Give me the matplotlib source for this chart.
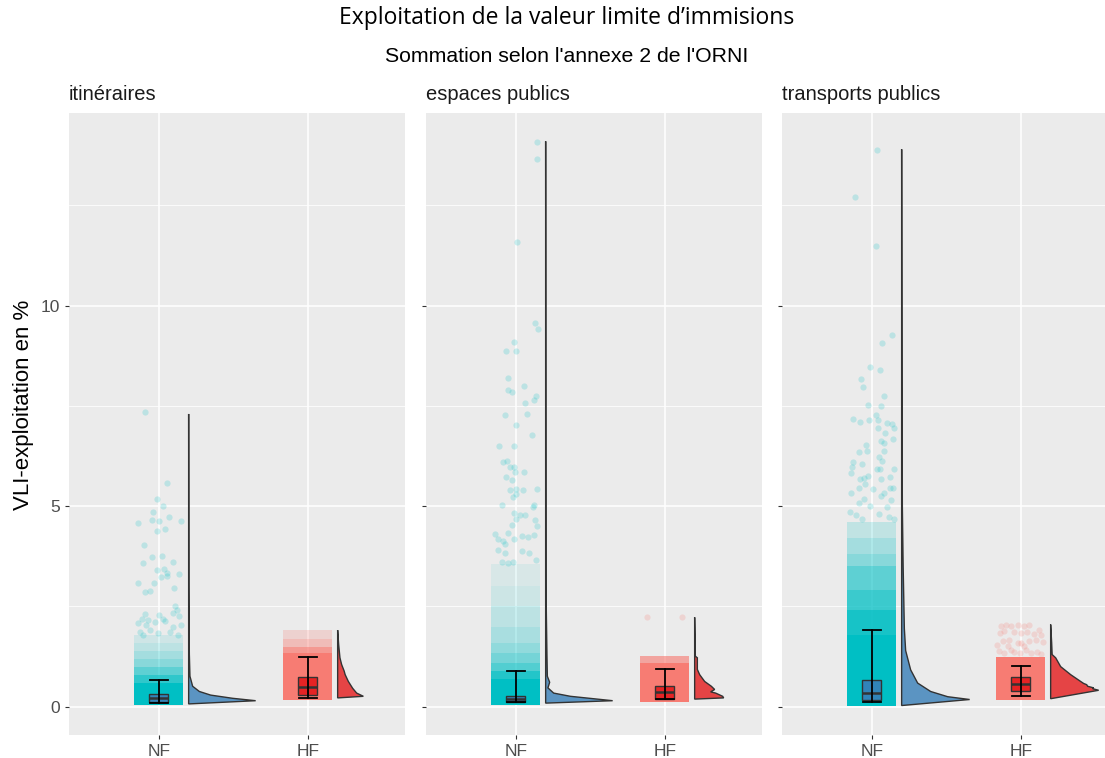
import matplotlib
matplotlib.use("Agg")
import matplotlib.pyplot as plt
from matplotlib.patches import Rectangle, Polygon

# ---------------- data ----------------
facets = ["itinéraires", "espaces publics", "transports publics"]
groups = ["NF", "HF"]
title = "Exploitation de la valeur limite d\u2019immisions"
subtitle = "Sommation selon l'annexe 2 de l'ORNI"
ylabel = "VLI-exploitation en %"
yticks = [0, 5, 10]

# boxplot stats per facet: [lower whisker, Q1, median, Q3, upper whisker]
box_NF = [[0.10, 0.11, 0.22, 0.32, 0.67],
          [0.11, 0.11, 0.19, 0.27, 0.90],
          [0.13, 0.18, 0.34, 0.66, 1.91]]
box_HF = [[0.23, 0.30, 0.48, 0.74, 1.24],
          [0.19, 0.19, 0.36, 0.52, 0.95],
          [0.27, 0.38, 0.57, 0.74, 1.02]]

# half-violin density profiles (value, density)
vio_NF_val = [[0.07, 0.15, 0.21, 0.29, 0.38, 0.51, 0.76, 1.3, 2.0, 3.0, 7.3],
              [0.09, 0.15, 0.26, 0.34, 0.47, 0.61, 0.76, 1.3, 3.0, 14.1],
              [0.03, 0.18, 0.25, 0.38, 0.59, 0.92, 1.4, 1.95, 3.5, 5.0, 8.0, 13.9]]
vio_NF_den = [[0, 67, 44, 22, 10.7, 4, 1.3, 0.7, 0.4, 0.2, 0],
              [0, 67, 24.7, 8, 2.3, 4, 1.7, 1.3, 0.3, 0],
              [0, 68, 46, 29, 16, 9, 4, 2.7, 1.5, 0.7, 0.3, 0]]
vio_HF_val = [[0.22, 0.26, 0.34, 0.46, 0.63, 0.8, 0.89, 1.05, 1.22, 1.55, 1.91],
              [0.19, 0.22, 0.26, 0.34, 0.37, 0.43, 0.51, 0.63, 0.80, 0.93, 1.22, 1.26, 2.23],
              [0.20, 0.41, 0.45, 0.47, 0.51, 0.55, 0.58, 0.63, 0.80, 1.00, 1.22, 1.30, 1.60, 2.05]]
vio_HF_den = [[0, 25.7, 19, 15, 10.7, 7.5, 6.5, 4, 2.3, 1, 0],
              [0, 29, 28, 21, 16, 20, 16.7, 10, 5, 2.7, 2.7, 0.7, 0],
              [0, 48, 42, 43, 37, 36, 33, 30, 20, 10, 5, 1.5, 1, 0]]

# dense part of the rain (value ranges with visual density)
cloud_NF = [[(0.05, 0.6, 1.0), (0.6, 0.8, 0.8), (0.8, 1.0, 0.6), (1.0, 1.2, 0.42),
             (1.2, 1.4, 0.3), (1.4, 1.6, 0.2), (1.6, 1.8, 0.12)],
            [(0.05, 0.7, 1.0), (0.7, 0.9, 0.85), (0.9, 1.1, 0.65), (1.1, 1.35, 0.5),
             (1.35, 1.6, 0.38), (1.6, 2.0, 0.28), (2.0, 2.5, 0.2), (2.5, 3.0, 0.13), (3.0, 3.55, 0.08)],
            [(0.03, 1.8, 1.0), (1.8, 2.4, 0.9), (2.4, 2.9, 0.75), (2.9, 3.5, 0.6),
             (3.5, 3.8, 0.42), (3.8, 4.2, 0.3), (4.2, 4.6, 0.18)]]
cloud_HF = [[(0.17, 1.35, 0.95), (1.35, 1.5, 0.7), (1.5, 1.7, 0.4), (1.7, 1.92, 0.22)],
            [(0.13, 1.10, 0.95), (1.10, 1.26, 0.6)],
            [(0.18, 1.24, 0.95)]]

# sparse single observations (jitter offset, value)
pts_NF_x = [
    [-0.094, 0.058, -0.015, 0.029, -0.040, -0.143, -0.049, 0.002, 0.069, 0.152, -0.015, 0.042, -0.101,
     -0.045, 0.020, -0.109, 0.096, -0.013, 0.032, 0.058, 0.015, 0.052, 0.136, -0.143, -0.032, -0.096,
     -0.058, 0.101, -0.094, -0.116, -0.072, 0.002, 0.029, 0.092, 0.119, 0.107, 0.136, -0.139, -0.083,
     -0.027, 0.040, 0.096, 0.146, -0.128, -0.060, -0.005, 0.074, 0.130, -0.105],
    [0.141, 0.141, 0.011, 0.128, 0.152, -0.015, -0.067, 0.002, -0.056, 0.056, -0.052, -0.027, 0.134,
     0.123, 0.062, -0.072, 0.074, 0.0, 0.109, -0.112, -0.011, -0.085, -0.062, -0.038, -0.015, -0.007,
     0.056, -0.067, -0.029, -0.040, 0.0, 0.045, 0.141, 0.0, -0.018, -0.096, 0.123, 0.114, -0.015, 0.029,
     0.062, 0.130, 0.0, -0.027, 0.141, -0.139, -0.056, 0.038, 0.123, -0.123, -0.083, -0.072, 0.083,
     -0.011, -0.123, -0.072, 0.038, 0.089, 0.134, -0.096, -0.056, -0.022],
    [0.034, -0.114, 0.027, 0.134, 0.067, -0.011, 0.058, -0.076, -0.060, 0.079, -0.025, 0.060, 0.027,
     0.038, -0.126, -0.081, -0.022, 0.099, 0.134, 0.146, 0.038, 0.089, 0.141, 0.060, 0.079, -0.040,
     -0.089, -0.034, 0.083, 0.049, -0.126, 0.067, -0.132, -0.069, 0.032, 0.054, 0.146, -0.141, -0.081,
     -0.056, -0.029, 0.060, 0.121, -0.045, -0.085, 0.011, 0.123, 0.143, -0.141, 0.079, 0.060, -0.056,
     0.128, -0.085, -0.011, 0.105, -0.148, -0.107, -0.067, 0.049, 0.116, 0.146]]
pts_NF_y = [
    [7.34, 5.59, 5.18, 5.01, 4.86, 4.58, 4.66, 4.63, 4.73, 4.62, 4.37, 4.42, 4.04, 3.74, 3.76, 3.58,
     3.60, 3.40, 3.44, 3.34, 3.24, 3.26, 3.30, 3.08, 3.09, 2.86, 2.88, 2.96, 2.30, 2.18, 2.17, 2.28,
     2.18, 2.34, 2.42, 2.50, 2.25, 2.08, 2.04, 2.12, 2.15, 2.00, 2.04, 1.87, 1.92, 1.84, 1.87, 1.80, 1.80],
    [14.08, 13.65, 11.59, 9.57, 9.43, 9.09, 8.86, 8.86, 8.19, 7.99, 7.91, 7.84, 7.76, 7.65, 7.58, 7.28,
     7.30, 7.03, 6.78, 6.49, 6.51, 6.09, 6.12, 5.98, 5.97, 5.86, 5.86, 5.74, 5.65, 5.40, 5.43, 5.41,
     5.44, 5.30, 5.23, 5.03, 5.03, 4.98, 4.83, 4.78, 4.78, 4.65, 4.68, 4.53, 4.51, 4.30, 4.34, 4.26,
     4.28, 4.19, 4.13, 4.07, 4.22, 4.18, 3.90, 3.84, 3.88, 3.83, 3.65, 3.61, 3.59, 3.62],
    [13.87, 12.72, 11.48, 9.28, 9.06, 8.46, 8.39, 8.17, 7.97, 7.76, 7.53, 7.51, 7.28, 7.16, 7.17, 7.09,
     7.15, 7.07, 7.05, 6.94, 6.94, 6.83, 6.68, 6.63, 6.57, 6.53, 6.36, 6.38, 6.38, 6.23, 6.09, 6.13,
     5.99, 6.05, 5.94, 5.94, 5.93, 5.84, 5.68, 5.70, 5.76, 5.68, 5.72, 5.55, 5.45, 5.44, 5.45, 5.45,
     5.33, 5.33, 5.26, 5.19, 5.16, 5.08, 5.01, 4.98, 4.86, 4.78, 4.68, 4.80, 4.73, 4.69]]
pts_HF_x = [
    [],
    [-0.118, 0.117],
    [-0.134, -0.101, -0.067, -0.022, 0.022, 0.056, -0.139, -0.116, -0.045, 0.0, 0.040, 0.085, 0.123,
     0.134, -0.123, -0.078, -0.022, 0.004, 0.056, 0.100, 0.152, -0.145, -0.112, -0.067, -0.045, -0.004,
     0.034, 0.067, 0.107, 0.134, -0.089, 0.022, -0.157]]
pts_HF_y = [
    [],
    [2.23, 2.23],
    [2.025, 2.05, 2.025, 2.05, 2.025, 2.04, 1.84, 1.88, 1.86, 1.84, 1.86, 1.82, 1.91, 1.80, 1.63, 1.675,
     1.59, 1.59, 1.63, 1.675, 1.61, 1.38, 1.34, 1.425, 1.36, 1.34, 1.41, 1.34, 1.36, 1.325, 1.51, 1.51, 1.55]]

# ---------------- style ----------------
BG = "#EBEBEB"
C_NF_PT, C_HF_PT = "#00BFC4", "#F8766D"
C_NF, C_HF = "#377EB8", "#E41A1C"
OUT = "#333333"
JIT = 0.165          # half width of rain
VOFF = 0.2           # violin offset
DSCALE = 1 / 149.0   # density -> x units
BOXW = 0.064
CAPW = 0.06

W, H = 1105, 758
fig = plt.figure(figsize=(W / 100, H / 100), dpi=100)
fig.patch.set_facecolor("white")

panel_left = [69, 426, 782]
pw = 336
ptop, pbot = 113, 735

axes = []
for i in range(3):
    ax = fig.add_axes([panel_left[i] / W, (H - pbot) / H, pw / W, (pbot - ptop) / H])
    axes.append(ax)
    ax.set_facecolor(BG)
    for s in ax.spines.values():
        s.set_visible(False)
    ax.set_xlim(0.397, 2.652)
    ax.set_ylim(-0.705, 14.805)
    ax.set_yticks(yticks)
    ax.set_yticks([2.5, 7.5, 12.5], minor=True)
    ax.set_xticks([1, 2])
    ax.set_xticklabels(groups)
    ax.grid(True, which="major", color="white", lw=1.1)
    ax.grid(True, which="minor", axis="y", color="white", lw=0.55)
    ax.set_axisbelow(True)
    ax.tick_params(which="major", length=3.2, width=0.8, color=OUT, labelsize=12.5,
                   labelcolor="#4D4D4D", pad=3)
    ax.tick_params(which="minor", length=0)
    for lab in ax.get_xticklabels() + ax.get_yticklabels():
        lab.set_family("Liberation Sans")
    if i > 0:
        ax.tick_params(labelleft=False)

    for gi, (pos, col_pt, col, clouds, px, py, bx, vv, vd) in enumerate([
        (1, C_NF_PT, C_NF, cloud_NF[i], pts_NF_x[i], pts_NF_y[i], box_NF[i], vio_NF_val[i], vio_NF_den[i]),
        (2, C_HF_PT, C_HF, cloud_HF[i], pts_HF_x[i], pts_HF_y[i], box_HF[i], vio_HF_val[i], vio_HF_den[i])]):
        # rain: dense blocks
        for lo, hi, a in clouds:
            ax.add_patch(Rectangle((pos - JIT, lo), 2 * JIT, hi - lo, facecolor=col_pt,
                                   alpha=a, lw=0, zorder=2))
        # rain: single points
        if px:
            ax.scatter([pos + o for o in px], py, s=20, color=col_pt, alpha=0.2,
                       lw=0, zorder=2.5)
        # half violin
        base = pos + VOFF
        poly = [(base, vv[0])] + [(base + d * DSCALE, v) for v, d in zip(vv, vd)] + [(base, vv[-1])]
        ax.add_patch(Polygon(poly, closed=True, facecolor=col, alpha=0.8, lw=0, zorder=3))
        ax.add_patch(Polygon(poly, closed=True, facecolor="none", edgecolor=OUT, lw=1.0, zorder=3.1))
        # boxplot
        lw_, q1, med, q3, hw = bx
        ax.add_patch(Rectangle((pos - BOXW, q1), 2 * BOXW, q3 - q1, facecolor=col, alpha=0.9,
                               edgecolor="none", zorder=4))
        ax.add_patch(Rectangle((pos - BOXW, q1), 2 * BOXW, q3 - q1, facecolor="none",
                               edgecolor=OUT, lw=1.0, zorder=4.1))
        ax.plot([pos - BOXW, pos + BOXW], [med, med], color=OUT, lw=1.8, zorder=4.2,
                solid_capstyle="butt")
        # errorbar
        ax.plot([pos, pos], [lw_, hw], color="black", lw=1.3, zorder=4.5)
        ax.plot([pos - CAPW, pos + CAPW], [hw, hw], color="black", lw=1.3, zorder=4.5)
        ax.plot([pos - CAPW, pos + CAPW], [lw_, lw_], color="black", lw=1.3, zorder=4.5)

    fig.text(panel_left[i] / W, 1 - 95 / H, facets[i], ha="left", va="center",
             fontsize=14.5, family="Liberation Sans", color="#1A1A1A")

axes[0].set_ylabel(ylabel, fontsize=16, family="Liberation Sans", color="black")
axes[0].yaxis.set_label_coords(-0.105, 0.53)

fig.text(567 / W, 1 - 18 / H, title, ha="center", va="center", fontsize=16.5,
         family="Open Sans", color="black")
fig.text(567 / W, 1 - 57 / H, subtitle, ha="center", va="center", fontsize=15.3,
         family="Liberation Sans", color="black")

fig.savefig("out.png", dpi=100)
